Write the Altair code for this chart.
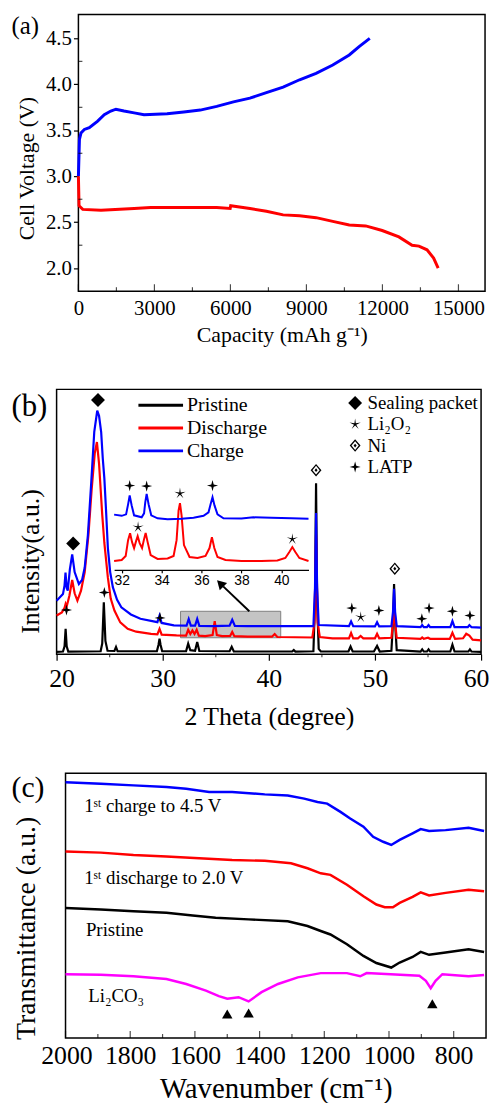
import altair as alt
import pandas as pd

SERIF = "Liberation Serif"
SANS = "Liberation Sans"
BLUE, RED, BLACK, MAGENTA = "#0000ff", "#ff0000", "#000000", "#ff00ff"

# ---------------- panel (a): charge / discharge profile ----------------
a_charge_cap = [0, 40, 100, 235, 430, 760, 1020, 1280, 1480, 1800, 2200, 2590, 3500, 4160, 4810,
                5460, 6120, 6770, 7420, 8080, 8730, 9380, 10040, 10690, 11080, 11500]
a_charge_v = [3.00, 3.40, 3.47, 3.51, 3.53, 3.60, 3.67, 3.71, 3.73, 3.71, 3.69, 3.67, 3.68, 3.70, 3.72,
              3.76, 3.81, 3.85, 3.91, 3.97, 4.05, 4.12, 4.21, 4.32, 4.41, 4.50]
a_dis_cap = [0, 25, 170, 890, 2200, 2850, 4160, 5460, 5990, 6010, 6770, 7420, 8080, 8730, 9380,
             10040, 10690, 11340, 11990, 12650, 13170, 13440, 13760, 14020, 14200]
a_dis_v = [3.00, 2.68, 2.64, 2.63, 2.65, 2.66, 2.66, 2.66, 2.65, 2.68, 2.65, 2.62, 2.58, 2.57, 2.55,
           2.51, 2.47, 2.46, 2.41, 2.34, 2.25, 2.24, 2.20, 2.11, 2.00]
a_x_ticks = [0, 3000, 6000, 9000, 12000, 15000]
a_x_minor = [1500, 4500, 7500, 10500, 13500]
a_y_ticks = [2.0, 2.5, 3.0, 3.5, 4.0, 4.5]
a_y_minor = [2.25, 2.75, 3.25, 3.75, 4.25]

# ---------------- panel (b): XRD ----------------
b_pri_x = [20.0, 20.6, 20.75, 20.85, 20.95, 21.1, 24.15, 24.3, 24.45, 24.6, 24.8, 25.45, 25.6, 25.75,
           29.45, 29.6, 29.7, 29.8, 29.95, 32.2, 32.4, 32.6, 33.05, 33.25, 33.45, 36.3, 36.5, 36.7,
           42.2, 42.35, 42.5, 44.2, 44.35, 44.45, 44.55, 44.7, 44.9, 47.5, 47.7, 47.9, 49.9, 50.2, 50.45,
           51.55, 51.7, 51.8, 51.9, 52.05, 54.3, 54.45, 54.6, 54.9, 55.05, 55.2, 57.1, 57.3, 57.5,
           58.8, 58.95, 59.1, 60.0]
b_pri_y = [0.9, 1.0, 3.0, 9.6, 3.0, 1.0, 1.1, 4.0, 19.6, 5.0, 1.3, 1.2, 2.7, 1.1,
           1.1, 3.5, 5.9, 3.5, 1.1, 1.1, 4.0, 1.5, 1.3, 4.6, 1.2, 1.1, 2.8, 1.0,
           1.0, 1.6, 1.0, 1.1, 20.0, 64.5, 20.0, 2.0, 1.0, 1.0, 2.9, 1.0, 1.0, 3.1, 1.0,
           1.3, 12.0, 26.5, 12.0, 1.5, 1.0, 1.8, 1.0, 1.0, 1.8, 1.0, 1.0, 3.6, 1.0,
           1.0, 1.8, 1.0, 0.9]
b_dis_x = [20.0, 20.5, 20.75, 20.85, 20.95, 21.2, 21.47, 21.7, 21.96, 22.3, 22.65, 23.0, 23.3, 23.6,
           23.8, 24.0, 24.3, 24.5, 24.83, 25.1, 25.45, 26.0, 26.7, 27.5, 28.9, 29.5, 29.7, 29.9,
           31.3, 32.2, 32.4, 32.6, 32.8, 33.0, 33.2, 33.4, 34.0, 34.7, 34.9, 35.1, 35.6, 36.35, 36.55,
           36.75, 38.0, 40.3, 40.55, 40.8, 44.1, 44.3, 44.45, 44.6, 44.8, 46.0, 47.55, 47.75, 47.95,
           48.4, 48.65, 48.9, 50.0, 50.2, 50.4, 51.55, 51.7, 51.8, 51.9, 52.05, 54.3, 54.45, 54.6,
           55.0, 55.2, 57.05, 57.3, 57.55, 58.3, 58.6, 58.9, 59.2, 60.0]
b_dis_y = [14.6, 15.8, 17.5, 19.0, 18.0, 22.0, 28.0, 23.0, 20.2, 24.0, 31.0, 45.0, 62.0, 76.0,
           80.1, 72.0, 52.7, 42.0, 29.0, 21.0, 16.5, 12.0, 9.6, 8.5, 7.7, 7.5, 9.6, 7.4,
           7.1, 7.0, 9.2, 7.6, 9.0, 7.6, 9.2, 7.0, 6.8, 7.2, 12.5, 7.2, 6.8, 6.9, 8.4,
           6.8, 6.6, 6.6, 7.6, 6.5, 6.3, 12.0, 45.0, 12.0, 6.5, 6.0, 6.0, 8.0, 6.0,
           6.0, 6.9, 6.0, 6.0, 7.7, 6.0, 6.2, 12.0, 20.0, 12.0, 6.2, 5.8, 6.3, 5.8,
           6.2, 5.8, 5.8, 8.1, 5.8, 6.0, 7.7, 7.0, 5.5, 5.2]
b_chg_x = [20.0, 20.6, 20.75, 20.84, 20.95, 21.05, 21.25, 21.47, 21.7, 22.1, 22.4, 22.65, 22.95, 23.27,
           23.55, 23.83, 24.0, 24.2, 24.35, 24.5, 24.65, 24.83, 25.05, 25.3, 25.7, 26.1, 27.0, 27.9,
           29.5, 29.7, 29.9, 31.05, 32.25, 32.45, 32.65, 33.05, 33.25, 33.45, 34.8, 36.3, 36.55, 36.8,
           38.0, 44.2, 44.35, 44.45, 44.55, 44.7, 47.55, 47.75, 47.95, 50.0, 50.2, 50.4, 51.55, 51.7,
           51.8, 51.9, 52.05, 54.3, 54.45, 54.6, 54.9, 55.05, 55.2, 57.1, 57.3, 57.5, 58.75, 58.9,
           59.1, 60.0]
b_chg_y = [20.2, 22.7, 26.0, 30.8, 25.0, 24.0, 32.0, 37.7, 31.0, 26.5, 28.0, 32.7, 45.0, 65.2,
           84.0, 92.0, 90.0, 83.9, 74.0, 66.4, 55.0, 40.2, 31.0, 25.3, 20.5, 17.7, 15.0, 13.4,
           12.1, 14.6, 11.8, 10.9, 10.8, 13.3, 10.8, 10.8, 13.3, 10.7, 10.6, 10.8, 13.0, 10.7,
           10.6, 10.6, 25.0, 53.3, 25.0, 11.0, 10.6, 12.4, 10.6, 10.5, 12.1, 10.5, 10.6, 16.0,
           24.7, 16.0, 10.6, 10.2, 11.0, 10.2, 10.2, 11.0, 10.2, 10.2, 12.5, 10.2, 10.2, 11.0,
           10.2, 10.0]
b_x_ticks = [20, 30, 40, 50, 60]
b_x_minor = [25, 35, 45, 55]
series_b = ["Pristine", "Discharge", "Charge"]

# peak markers, main panel
phases = ["Sealing packet", "Li\u2082O\u2082", "Ni", "LATP"]
mk_phase = ["Sealing packet", "Sealing packet", "LATP", "LATP", "LATP", "LATP", "LATP", "LATP",
            "LATP", "LATP", "LATP", "Li\u2082O\u2082", "Ni", "Ni"]
mk_x = [23.9, 21.56, 20.93, 24.5, 29.75, 47.82, 50.37, 54.42, 55.1, 57.3, 58.95, 48.66, 44.45, 51.87]
mk_y = [96.0, 41.8, 16.7, 23.3, 13.7, 17.4, 16.5, 13.4, 17.4, 16.2, 14.6, 14.0, 69.5, 32.3]

# grey zoom box and arrow (data coordinates)
box_x, box_x2, box_y, box_y2 = [31.68], [41.12], [6.2], [16.2]
arr_x, arr_x2, arr_y, arr_y2 = [38.16], [35.7], [16.2], [25.6]
arr_head_x, arr_head_y = [35.42], [26.7]

# inset
in_chg_x = [31.62, 32.0, 32.22, 32.32, 32.4, 32.5, 32.62, 33.0, 33.12, 33.18, 33.25, 33.35, 33.48,
            33.8, 34.3, 35.0, 35.6, 36.1, 36.35, 36.45, 36.55, 36.65, 36.8, 37.1, 38.0, 38.6, 39.5,
            40.5, 41.36]
in_chg_y = [55.7, 54.5, 56.0, 66.0, 75.0, 65.0, 55.0, 53.0, 57.0, 68.0, 76.7, 66.0, 55.0,
            52.0, 51.0, 51.5, 52.5, 54.5, 58.0, 66.0, 73.3, 65.0, 56.0, 52.0, 51.8, 53.0, 52.5,
            52.0, 51.5]
in_dis_x = [31.62, 32.0, 32.2, 32.32, 32.42, 32.52, 32.62, 32.72, 32.8, 32.9, 33.02, 33.12, 33.2,
            33.3, 33.45, 33.8, 34.3, 34.6, 34.75, 34.85, 34.92, 35.0, 35.12, 35.4, 35.8, 36.2,
            36.4, 36.52, 36.64, 36.8, 37.2, 38.0, 39.0, 39.8, 40.2, 40.4, 40.55, 40.7, 40.9, 41.36]
in_dis_y = [9.0, 10.0, 14.0, 30.0, 37.0, 28.0, 22.0, 29.0, 34.0, 27.0, 22.0, 31.0, 37.3,
            28.0, 15.0, 11.0, 11.5, 14.0, 30.0, 60.0, 67.3, 55.0, 25.0, 13.0, 12.0, 14.0,
            22.0, 33.0, 22.0, 13.0, 10.0, 9.0, 9.0, 9.5, 12.0, 18.0, 23.0, 18.0, 12.0, 9.0]
in_mk_phase = ["LATP", "LATP", "LATP", "Li\u2082O\u2082", "Li\u2082O\u2082", "Li\u2082O\u2082"]
in_mk_x = [32.4, 33.25, 36.55, 32.82, 34.92, 40.55]
in_mk_y = [85.0, 84.5, 85.0, 43.0, 77.0, 31.0]
in_ticks = [32, 34, 36, 38, 40]

# ---------------- panel (c): FTIR ----------------
c_chg_wn = [2000, 1891, 1790, 1688, 1627, 1556, 1485, 1384, 1313, 1262, 1221, 1191, 1150, 1120,
            1079, 1049, 1018, 993, 967, 927, 902, 876, 825, 754, 706]
c_chg_t = [96.6, 96.0, 95.4, 94.8, 94.1, 92.9, 92.9, 92.0, 91.6, 90.4, 89.1, 88.5, 85.4, 82.9,
           79.8, 76.0, 74.1, 72.9, 74.8, 77.3, 78.9, 78.2, 78.5, 79.4, 78.2]
c_dis_wn = [2000, 1891, 1790, 1688, 1587, 1485, 1384, 1303, 1252, 1211, 1181, 1130, 1079, 1039,
            1013, 988, 967, 927, 902, 876, 825, 754, 706]
c_dis_t = [70.4, 70.0, 69.1, 68.5, 67.9, 67.2, 66.9, 66.0, 64.1, 62.2, 61.6, 57.9, 53.5, 50.4,
           49.4, 49.4, 51.0, 53.3, 55.0, 53.8, 54.8, 56.0, 55.4]
c_pri_wn = [2000, 1891, 1790, 1688, 1607, 1536, 1434, 1313, 1252, 1211, 1181, 1130, 1079, 1039,
            993, 967, 927, 902, 876, 825, 754, 706]
c_pri_t = [49.1, 48.5, 47.9, 47.3, 46.3, 45.4, 44.8, 44.1, 42.3, 40.4, 39.1, 35.4, 31.0, 28.3,
           26.6, 28.5, 30.6, 32.5, 31.4, 32.3, 33.5, 32.5]
c_li_wn = [2000, 1891, 1790, 1688, 1627, 1566, 1526, 1500, 1465, 1434, 1394, 1343, 1282, 1211,
           1130, 1089, 1069, 906, 886, 871, 856, 835, 754, 706]
c_li_t = [24.1, 23.9, 23.3, 22.3, 20.4, 17.9, 15.8, 14.8, 15.4, 13.8, 17.3, 20.4, 22.9, 24.5,
          24.5, 23.3, 24.5, 23.5, 21.6, 18.8, 21.6, 24.1, 23.3, 23.8]
series_c = ["charge", "discharge", "pristine", "Li2CO3"]
c_labels = ["1\u02e2\u1d57 charge to 4.5 V", "1\u02e2\u1d57 discharge to 2.0 V", "Pristine", "Li\u2082CO\u2083"]
c_label_wn = [1942, 1942, 1937, 1930]
c_label_t = [87.5, 60.4, 40.8, 15.8]
c_tri_wn = [1500, 1434, 866]
c_tri_t = [9.1, 9.4, 12.9]
c_x_ticks = [2000, 1800, 1600, 1400, 1200, 1000, 800]
c_x_minor = [1900, 1700, 1500, 1300, 1100, 900]

# ======================================================================
def label(text, x, y, size):
    return alt.Chart(pd.DataFrame({"t": [text]})).mark_text(
        font=SERIF, fontSize=size, align="left", baseline="top", color="black"
    ).encode(text="t:N", x=alt.value(x), y=alt.value(y))


# ---------------- panel (a) ----------------
W_A, H_A = 410, 279
xa = alt.X("cap:Q", scale=alt.Scale(domain=[0, 16050], nice=False),
           axis=alt.Axis(values=a_x_ticks, format="d", ticks=False, labelFontSize=21, labelPadding=7,
                         labelFlush=False, title="Capacity (mAh g\u207b\u00b9)", titleFontSize=22,
                         titlePadding=6))
ya = alt.Y("v:Q", scale=alt.Scale(domain=[1.75, 4.76], nice=False, zero=False),
           axis=alt.Axis(values=a_y_ticks, format=".1f", tickSize=5, labelFontSize=21, labelPadding=2,
                         title="Cell Voltage (V)", titleFontSize=22, titlePadding=7, titleY=155))
df_a = pd.DataFrame({
    "cap": a_charge_cap + a_dis_cap,
    "v": a_charge_v + a_dis_v,
    "series": ["Charge"] * len(a_charge_cap) + ["Discharge"] * len(a_dis_cap),
    "idx": list(range(len(a_charge_cap))) + list(range(len(a_dis_cap))),
})
lines_a = alt.Chart(df_a).mark_line(strokeWidth=3).encode(
    x=xa, y=ya, order="idx:Q",
    color=alt.Color("series:N", scale=alt.Scale(domain=["Charge", "Discharge"], range=[BLUE, RED]), legend=None))
tk_a1 = alt.Chart(pd.DataFrame({"cap": a_x_ticks})).mark_tick(color="black", size=7, thickness=1.2).encode(
    x=xa, y=alt.value(H_A - 3.5))
tk_a2 = alt.Chart(pd.DataFrame({"cap": a_x_minor})).mark_tick(color="black", size=4, thickness=1.2).encode(
    x=xa, y=alt.value(H_A - 2))
tk_a3 = alt.Chart(pd.DataFrame({"v": a_y_minor})).mark_tick(color="black", size=4, thickness=1.2).encode(
    y=ya, x=alt.value(2))
panel_a = alt.layer(lines_a, tk_a1, tk_a2, tk_a3, label("(a)", -67.5, 0, 25)).properties(width=W_A, height=H_A)

# ---------------- panel (b) ----------------
W_B, H_B = 428, 267
B_OFF = 46.5  # left edge of panel (b) inside its row, where its legends are anchored
xb = alt.X("tt:Q", scale=alt.Scale(domain=[20, 60], nice=False),
           axis=alt.Axis(values=b_x_ticks, tickSize=6, labelFontSize=26, labelPadding=6,
                         labelFlush=True, labelFlushOffset=8,
                         title="2 Theta (degree)", titleFontSize=26, titlePadding=12))
yb = alt.Y("I:Q", scale=alt.Scale(domain=[0, 100], nice=False),
           axis=alt.Axis(labels=False, ticks=False, title="Intensity(a.u.)", titleFontSize=26,
                         titlePadding=13, titleY=173))
color_b = alt.Scale(domain=series_b, range=[BLACK, RED, BLUE])
leg_line = alt.Legend(title=None, orient="none", legendX=B_OFF + 95, legendY=4.5,
                      symbolType="M-2.25,0L2.25,0", symbolSize=400, symbolStrokeWidth=3,
                      labelFont=SERIF, labelFontSize=20, labelOffset=15, rowPadding=1, padding=0,
                      labelColor="black")
P_DIAMOND = "M0,-1L1,0L0,1L-1,0Z"
P_STAR = ("M0,-0.85L0.1,-0.1375L0.808,-0.263L0.162,0.0525L0.5,0.688L0,0.17L-0.5,0.688"
          "L-0.162,0.0525L-0.808,-0.263L-0.1,-0.1375Z")
P_NI = ("M0,-0.9L0.78,0L0,0.9L-0.78,0Z"
        "M0,-0.62L-0.52,0L0,0.62L0.52,0Z"
        "M0,-0.26L0.22,0L0,0.26L-0.22,0Z")
P_LATP = "M0,-0.8L0.17,-0.17L0.8,0L0.17,0.17L0,0.8L-0.17,0.17L-0.8,0L-0.17,-0.17Z"
shape_b = alt.Scale(domain=phases, range=[P_DIAMOND, P_STAR, P_NI, P_LATP])
leg_shape = alt.Legend(title=None, orient="none", legendX=B_OFF + 293, legendY=4.2, symbolSize=196,
                       symbolFillColor="black", symbolStrokeColor="black", symbolStrokeWidth=0,
                       symbolOpacity=1, labelFont=SERIF, labelFontSize=19, labelOffset=3,
                       rowPadding=1.5, padding=0, labelColor="black")


def xrd_line(xs, ys, name):
    df = pd.DataFrame({"tt": xs, "I": ys, "series": name})
    return alt.Chart(df).mark_line(strokeWidth=2.2).encode(
        x=xb, y=yb, color=alt.Color("series:N", scale=color_b, legend=leg_line))


box = alt.Chart(pd.DataFrame({"tt": box_x, "tt2": box_x2, "I": box_y, "I2": box_y2})).mark_rect(
    fill="#c4c4c4", stroke="#808080", strokeWidth=1).encode(x=xb, x2="tt2:Q", y=yb, y2="I2:Q")
arrow = alt.Chart(pd.DataFrame({"tt": arr_x, "tt2": arr_x2, "I": arr_y, "I2": arr_y2})).mark_rule(
    color="black", strokeWidth=2).encode(x=xb, x2="tt2:Q", y=yb, y2="I2:Q")
arrow_head = alt.Chart(pd.DataFrame({"tt": arr_head_x, "I": arr_head_y})).mark_point(
    shape="triangle-up", angle=315, filled=True, color="black", size=110, opacity=1).encode(x=xb, y=yb)
markers_b = alt.Chart(pd.DataFrame({"tt": mk_x, "I": mk_y, "phase": mk_phase})).mark_point(
    filled=True, fill="black", strokeWidth=0, size=196, opacity=1).encode(
    x=xb, y=yb, shape=alt.Shape("phase:N", scale=shape_b, legend=leg_shape))
tk_b = alt.Chart(pd.DataFrame({"tt": b_x_minor})).mark_tick(color="black", size=3, thickness=1.2).encode(
    x=xb, y=alt.value(H_B + 1.5))
main_b = alt.layer(
    box,
    xrd_line(b_pri_x, b_pri_y, "Pristine"),
    xrd_line(b_dis_x, b_dis_y, "Discharge"),
    xrd_line(b_chg_x, b_chg_y, "Charge"),
    arrow, arrow_head, markers_b, tk_b,
    label("(b)", -45.5, 3, 31),
)

xi = alt.X("ti:Q", scale=alt.Scale(domain=[31.62, 41.36], range=[58, 254], nice=False),
           axis=alt.Axis(orient="bottom", offset=-85, values=in_ticks, labelFont=SANS, labelFontSize=14,
                         tickSize=3, domain=True, domainColor="black", domainWidth=1.2, title=None,
                         labelPadding=1, labelFlush=False))
yi = alt.Y("ii:Q", scale=alt.Scale(domain=[0, 100], range=[182, 82], nice=False), axis=None)


def inset_line(xs, ys, name):
    df = pd.DataFrame({"ti": xs, "ii": ys, "series": name})
    return alt.Chart(df).mark_line(strokeWidth=2).encode(
        x=xi, y=yi, color=alt.Color("series:N", scale=color_b, legend=leg_line))


inset_mk = alt.Chart(pd.DataFrame({"ti": in_mk_x, "ii": in_mk_y, "phase": in_mk_phase})).mark_point(
    filled=True, fill="black", strokeWidth=0, size=196, opacity=1).encode(
    x=xi, y=yi, shape=alt.Shape("phase:N", scale=shape_b, legend=leg_shape))
inset_b = alt.layer(inset_line(in_dis_x, in_dis_y, "Discharge"),
                    inset_line(in_chg_x, in_chg_y, "Charge"), inset_mk)

panel_b = alt.layer(main_b, inset_b).resolve_scale(x="independent", y="independent").properties(
    width=W_B, height=H_B)

# ---------------- panel (c) ----------------
W_C, H_C = 424, 267
xc = alt.X("wn:Q", scale=alt.Scale(domain=[700, 2000], reverse=True, nice=False),
           axis=alt.Axis(values=c_x_ticks, format="d", ticks=False, labelFontSize=26, labelPadding=5,
                         labelFlush=True, labelFlushOffset=25,
                         title="Wavenumber (cm\u207b\u00b9)", titleFontSize=29, titlePadding=6))
yc = alt.Y("T:Q", scale=alt.Scale(domain=[0, 100], nice=False),
           axis=alt.Axis(labels=False, ticks=False, title="Transmittance (a.u.)", titleFontSize=28,
                         titlePadding=25, titleY=156))
df_c = pd.DataFrame({
    "wn": c_chg_wn + c_dis_wn + c_pri_wn + c_li_wn,
    "T": c_chg_t + c_dis_t + c_pri_t + c_li_t,
    "series": [series_c[0]] * len(c_chg_wn) + [series_c[1]] * len(c_dis_wn)
              + [series_c[2]] * len(c_pri_wn) + [series_c[3]] * len(c_li_wn),
})
lines_c = alt.Chart(df_c).mark_line(strokeWidth=2.5).encode(
    x=xc, y=yc,
    color=alt.Color("series:N", scale=alt.Scale(domain=series_c, range=[BLUE, RED, BLACK, MAGENTA]), legend=None))
text_c = alt.Chart(pd.DataFrame({"wn": c_label_wn, "T": c_label_t, "lab": c_labels})).mark_text(
    font=SERIF, fontSize=19, align="left", baseline="middle", color="black").encode(x=xc, y=yc, text="lab:N")
tri_c = alt.Chart(pd.DataFrame({"wn": c_tri_wn, "T": c_tri_t})).mark_point(
    shape="triangle-up", filled=True, color="black", size=110, opacity=1).encode(x=xc, y=yc)
tk_c1 = alt.Chart(pd.DataFrame({"wn": c_x_ticks})).mark_tick(color="black", size=7, thickness=1.2).encode(
    x=xc, y=alt.value(H_C - 3.5))
tk_c2 = alt.Chart(pd.DataFrame({"wn": c_x_minor})).mark_tick(color="black", size=4, thickness=1.2).encode(
    x=xc, y=alt.value(H_C - 2))
panel_c = alt.layer(lines_c, text_c, tri_c, tk_c1, tk_c2, label("(c)", -54.5, 0, 30)).properties(
    width=W_C, height=H_C)


# ---------------- compose ----------------
# Vega places the first grid column at the plot origin; a 1px spacer in column 0 lets each panel
# sit at its own left overhang, so the three frames get their own left edges.
def row(panel):
    spacer = alt.Chart(pd.DataFrame({"z": [0]})).mark_point(opacity=0, size=1).encode(
        x=alt.value(0), y=alt.value(0)
    ).properties(width=1, height=1, view=alt.ViewBackground(stroke="transparent", strokeWidth=0))
    return alt.hconcat(spacer, panel, spacing=0)


chart = alt.vconcat(
    row(panel_a), row(panel_b), row(panel_c), spacing=42
).resolve_scale(
    color="independent", shape="independent"
).properties(
    padding={"left": 0, "top": 1, "right": 0, "bottom": -6}, background="white"
).configure_view(
    stroke="black", strokeWidth=1.5
).configure_axis(
    grid=False, domain=False, labelFont=SERIF, titleFont=SERIF, labelColor="black", titleColor="black",
    titleFontWeight="normal", tickColor="black", tickWidth=1.2
)

chart.save("out.html", embed_options={"renderer": "svg", "actions": False})
